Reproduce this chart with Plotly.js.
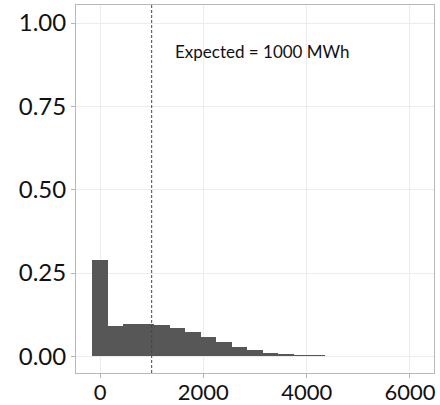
<!DOCTYPE html>
<html>
<head>
<meta charset="utf-8">
<script src="https://cdn.plot.ly/plotly-3.0.1.min.js"></script>
<style>html,body{margin:0;padding:0;background:#fff;}#chart{width:440px;height:405px;}</style>
</head>
<body>
<div id="chart"></div>
<script>
// Bin centres (MWh) and proportions
var binCenters = [0, 300, 600, 900, 1200, 1500, 1800, 2100, 2400, 2700, 3000, 3300, 3600, 3900, 4200, 4500, 4800];
var proportions = [0.290, 0.091, 0.097, 0.097, 0.093, 0.085, 0.072, 0.057, 0.042, 0.029, 0.019, 0.011, 0.007, 0.004, 0.003, 0.002, 0.002];
var binWidth = 300;
var expectedValue = 1000;
var annotationText = "Expected = 1000 MWh";
var xTicks = [0, 2000, 4000, 6000];
var yTicks = [0, 0.25, 0.5, 0.75, 1.0];
var yTickLabels = ["0.00", "0.25", "0.50", "0.75", "1.00"];

var trace = {
  type: 'bar',
  x: binCenters,
  y: proportions,
  width: binCenters.map(function(){ return binWidth; }),
  marker: {color: '#575757', line: {width: 0}},
  hoverinfo: 'x+y'
};

var layout = {
  width: 440, height: 405,
  margin: {l: 76, r: 6, t: 5, b: 32},
  paper_bgcolor: '#ffffff',
  plot_bgcolor: '#ffffff',
  showlegend: false,
  bargap: 0,
  font: {family: 'Lato, "Open Sans", sans-serif', color: '#111'},
  xaxis: {
    range: [-465, 6465],
    tickvals: xTicks,
    ticktext: xTicks.map(String),
    ticks: 'outside', ticklen: 4, tickcolor: '#b3b3b3', tickwidth: 1,
    tickfont: {size: 22, color: '#111'},
    ticklabelstandoff: -4,
    showgrid: true, gridcolor: '#ececec', gridwidth: 1,
    zeroline: false,
    showline: true, linecolor: '#b8b8b8', linewidth: 1, mirror: true
  },
  yaxis: {
    range: [-0.05, 1.054],
    tickvals: yTicks,
    ticktext: yTickLabels,
    ticks: 'outside', ticklen: 4, tickcolor: '#b3b3b3', tickwidth: 1,
    tickfont: {size: 24, color: '#111'},
    showgrid: true, gridcolor: '#ececec', gridwidth: 1,
    zeroline: false,
    showline: true, linecolor: '#b8b8b8', linewidth: 1, mirror: true
  },
  shapes: [{
    type: 'line', xref: 'x', yref: 'paper',
    x0: expectedValue, x1: expectedValue, y0: 0, y1: 1,
    line: {color: '#444444', width: 1, dash: '3px,2px'}
  }],
  annotations: [{
    x: 3150, y: 0.916, xref: 'x', yref: 'y',
    text: annotationText, showarrow: false,
    font: {size: 17, color: '#111'}
  }]
};

Plotly.newPlot('chart', [trace], layout, {displayModeBar: false, staticPlot: true});
</script>
</body>
</html>
